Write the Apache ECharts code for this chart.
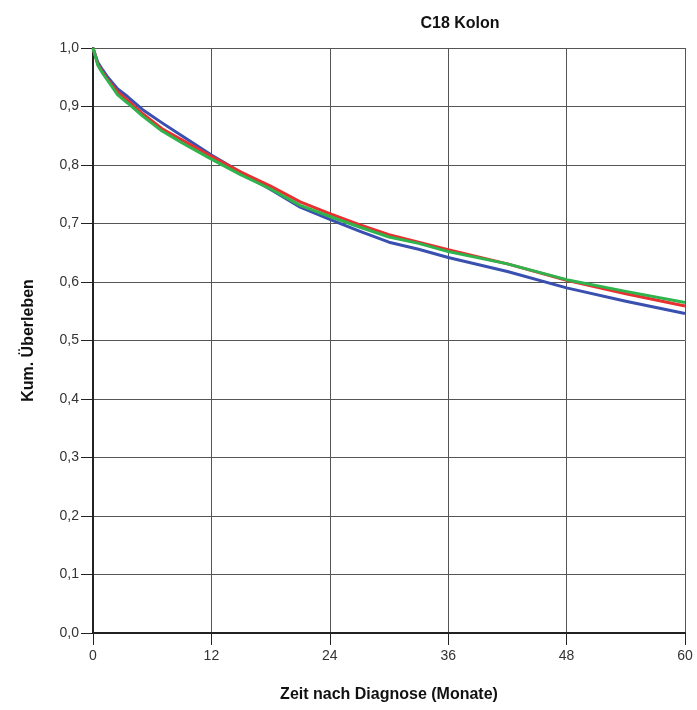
<!DOCTYPE html>
<html>
<head>
<meta charset="utf-8">
<script src="https://cdn.jsdelivr.net/npm/echarts@6/dist/echarts.min.js"></script>
<style>
  html, body { margin: 0; padding: 0; background: #fff; }
  #chart { width: 697px; height: 710px; }
</style>
</head>
<body>
<div id="chart"></div>
<script>
// Follow-up time in months
var months = [0, 0.5, 1, 1.5, 2.5, 3.5, 5, 7, 9, 12, 15, 18, 21, 24, 27, 30, 33, 36, 42, 48, 54, 60];

// Cumulative survival per group
var survBlue  = [1.0, 0.975, 0.962, 0.950, 0.930, 0.917, 0.895, 0.872, 0.850, 0.817, 0.787, 0.758, 0.728, 0.707, 0.687, 0.668, 0.656, 0.642, 0.618, 0.590, 0.567, 0.546];
var survRed   = [1.0, 0.972, 0.958, 0.946, 0.925, 0.911, 0.888, 0.862, 0.843, 0.815, 0.788, 0.764, 0.737, 0.717, 0.698, 0.681, 0.668, 0.655, 0.631, 0.603, 0.580, 0.559];
var survGreen = [1.0, 0.970, 0.956, 0.944, 0.920, 0.906, 0.884, 0.858, 0.838, 0.810, 0.783, 0.759, 0.731, 0.712, 0.694, 0.677, 0.666, 0.652, 0.631, 0.604, 0.584, 0.565];

var xTicks = [0, 12, 24, 36, 48, 60];
var yTicks = [0, 0.1, 0.2, 0.3, 0.4, 0.5, 0.6, 0.7, 0.8, 0.9, 1.0];

function pairs(ys) {
  return months.map(function (m, i) { return [m, ys[i]]; });
}

var chart = echarts.init(document.getElementById('chart'), null, { renderer: 'canvas' });

function lineSeries(name, ys, color) {
  return {
    name: name,
    type: 'line',
    data: pairs(ys),
    showSymbol: false,
    smooth: false,
    lineStyle: { color: color, width: 3, join: 'round' },
    itemStyle: { color: color },
    z: 3
  };
}

var labelFont = 'Liberation Sans Narrow, Liberation Sans, Arial, sans-serif';
var nameFont = 'Liberation Sans, Arial, sans-serif';

chart.setOption({
  animation: false,
  backgroundColor: '#ffffff',
  title: {
    text: 'C18 Kolon',
    left: 455,
    textAlign: 'center',
    top: 11,
    textStyle: { fontFamily: nameFont, fontSize: 16, fontWeight: 'bold', color: '#111' }
  },
  grid: { left: 93, right: 12, top: 48, bottom: 77, containLabel: false },
  xAxis: {
    type: 'value',
    min: xTicks[0],
    max: xTicks[xTicks.length - 1],
    interval: 12,
    name: 'Zeit nach Diagnose (Monate)',
    nameLocation: 'middle',
    nameGap: 54,
    nameTextStyle: { fontFamily: nameFont, fontSize: 16, fontWeight: 'bold', color: '#111' },
    axisLine: { show: true, onZero: false, lineStyle: { color: '#222', width: 2 } },
    axisTick: { show: true, inside: false, length: 12, lineStyle: { color: '#222', width: 1 } },
    axisLabel: { margin: 16, fontFamily: labelFont, fontSize: 14, color: '#333' },
    splitLine: { show: true, lineStyle: { color: '#555', width: 1 } }
  },
  yAxis: {
    type: 'value',
    min: yTicks[0],
    max: yTicks[yTicks.length - 1],
    interval: 0.1,
    name: 'Kum. Überleben',
    nameLocation: 'middle',
    nameGap: 56,
    nameRotate: 90,
    nameTextStyle: { fontFamily: nameFont, fontSize: 16, fontWeight: 'bold', color: '#111' },
    axisLine: { show: true, onZero: false, lineStyle: { color: '#222', width: 2 } },
    axisTick: { show: true, inside: false, length: 12, lineStyle: { color: '#222', width: 1 } },
    axisLabel: {
      margin: 14,
      fontFamily: labelFont,
      fontSize: 14,
      color: '#333',
      formatter: function (v) { return v.toFixed(1).replace('.', ','); }
    },
    splitLine: { show: true, lineStyle: { color: '#555', width: 1 } }
  },
  series: [
    lineSeries('Gruppe 1', survBlue, '#3a50b0'),
    lineSeries('Gruppe 2', survRed, '#e83030'),
    lineSeries('Gruppe 3', survGreen, '#2fb34c')
  ]
});
</script>
</body>
</html>
